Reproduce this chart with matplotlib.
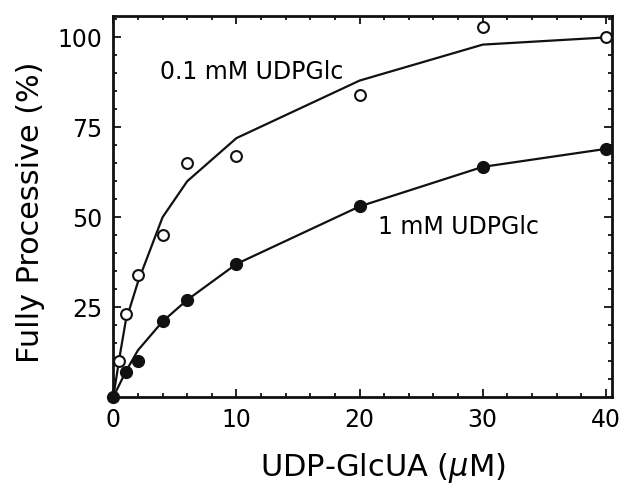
import numpy as np
import matplotlib
matplotlib.use("Agg")
import matplotlib.pyplot as plt
from matplotlib.ticker import MultipleLocator

# measured points, 0.1 mM UDPGlc (open circles)
x_low = [0.5, 1, 2, 4, 6, 10, 20, 30, 40]
y_low = [10, 23, 34, 45, 65, 67, 84, 103, 100]
# fitted curve through 0.1 mM data
fit_low_x = [0, 0.5, 1, 2, 4, 6, 10, 20, 30, 40]
fit_low_y = [0, 11, 21, 32, 50, 60, 72, 88, 98, 100]

# measured points, 1 mM UDPGlc (filled circles)
x_high = [0, 1, 2, 4, 6, 10, 20, 30, 40]
y_high = [0, 7, 10, 21, 27, 37, 53, 64, 69]
# fitted curve through 1 mM data
fit_high_x = [0, 1, 2, 4, 6, 10, 20, 30, 40]
fit_high_y = [0, 7, 13, 21, 27, 37, 53, 64, 69]

fig = plt.figure(figsize=(6.21, 4.88), dpi=100)
ax = fig.add_axes([0.1825, 0.1865, 0.803, 0.781])

ax.plot(fit_low_x, fit_low_y, color="#111111", lw=1.6, zorder=2)
ax.plot(fit_high_x, fit_high_y, color="#111111", lw=1.6, zorder=2)
ax.plot(x_low, y_low, "o", ms=7.8, mfc="white", mec="#111111", mew=1.5,
        clip_on=False, zorder=3)
ax.plot(x_high, y_high, "o", ms=8.5, mfc="#111111", mec="#111111",
        clip_on=False, zorder=3)

ax.text(3.8, 90.3, "0.1 mM UDPGlc", fontsize=17, va="center", ha="left")
ax.text(21.5, 47.2, "1 mM UDPGlc", fontsize=17, va="center", ha="left")

ax.set_xlim(0, 40.5)
ax.set_ylim(0, 106)
ax.xaxis.set_major_locator(MultipleLocator(10))
ax.xaxis.set_minor_locator(MultipleLocator(2))
ax.set_yticks([25, 50, 75, 100])
ax.yaxis.set_minor_locator(MultipleLocator(5))
ax.tick_params(which="both", direction="in", top=True, right=True,
               width=1.3, labelsize=17, color="#111111")
ax.tick_params(which="major", length=6, pad=8)
ax.tick_params(which="minor", length=3)
for s in ax.spines.values():
    s.set_linewidth(2)
    s.set_color("#111111")

ax.set_xlabel("UDP-GlcUA ($\\mu$M)", fontsize=22, va="center", ha="center")
ax.xaxis.set_label_coords(0.541, -0.186)
ax.set_ylabel("Fully Processive (%)", fontsize=21.8, va="center", ha="center")
ax.yaxis.set_label_coords(-0.166, 0.486)

fig.savefig("out.png", dpi=100)
